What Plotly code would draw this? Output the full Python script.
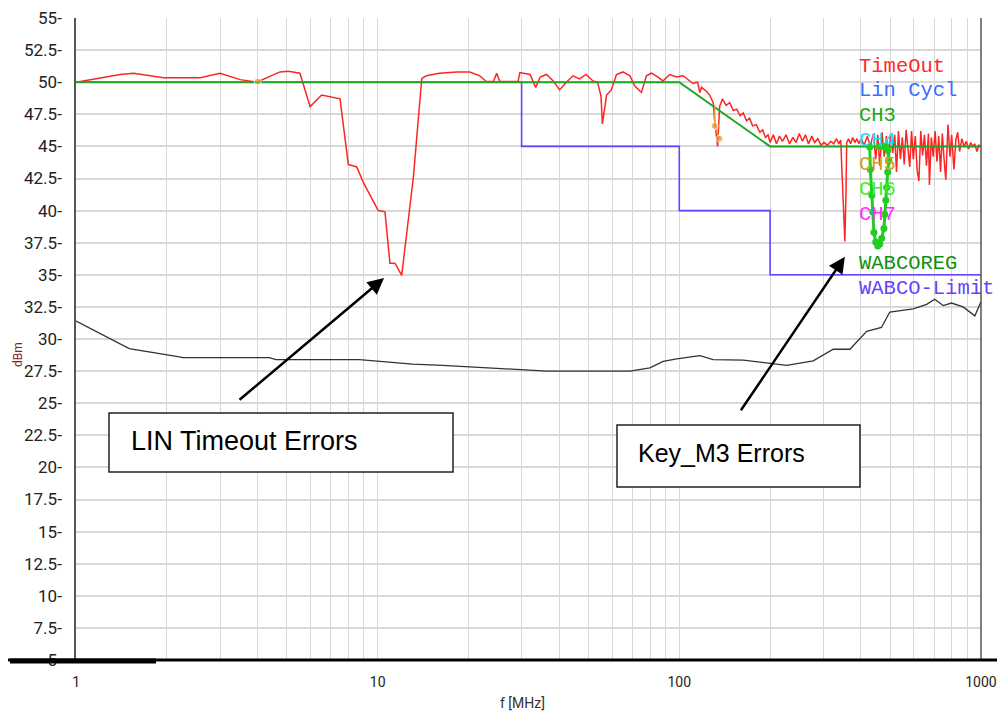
import plotly.graph_objects as go

# ---------------- data ----------------
timeout_f = [1.0, 1.03, 1.4, 1.55, 1.95, 2.58, 3.0, 3.5, 3.97, 4.74, 5.06, 5.52, 5.97, 6.52, 7.5, 7.99,
             8.52, 8.96, 10.04, 10.57, 10.98, 11.41, 12.01, 13.13, 14.0, 14.5, 16.0, 18.3, 20.2, 21.8,
             22.9, 24.2, 24.8, 25.4, 29.2, 29.6, 32.0, 33.4, 34.6, 36.3, 38.2, 40.1, 42.2, 44.4, 46.7,
             49.1, 51.7, 53.6, 55.0, 55.6, 57.4, 59.5, 61.9, 65.1, 68.6, 71.2, 74.9, 77.8, 80.8, 85.0,
             88.3, 92.9, 98.0, 103, 107, 111, 115, 117, 118.5, 123, 126, 129.6, 131, 134, 136, 139,
             143, 147, 151, 155, 159, 163, 167, 171, 175, 180, 185, 189, 193, 197,
             200, 205, 210, 215, 220, 226, 232, 238, 244, 250, 256, 262, 268, 275, 281, 288, 295,
             302, 310, 318, 325, 332, 338, 343, 346, 349, 352, 354, 357, 359, 364, 370, 376, 382,
             388, 394, 400, 410, 420, 430, 440, 448, 455, 462, 470, 478, 486, 494, 502, 510, 518,
             525, 533, 541, 549, 557, 565, 573, 581, 589, 597, 606, 615, 623, 632, 641, 650, 660,
             670, 675, 685, 695, 705, 715, 725, 735, 745, 755, 765, 778, 790, 800, 814, 826, 838,
             850, 865, 880, 895, 910, 925, 940, 955, 970, 985, 1000]
timeout_v = [50.0, 50.05, 50.6, 50.7, 50.35, 50.35, 50.7, 50.2, 50.0, 50.8, 50.85, 50.7, 48.1, 49.0, 48.7, 43.6,
             43.4, 42.2, 40.0, 39.9, 35.9, 35.9, 34.95, 42.6, 50.3, 50.5, 50.7, 50.8, 50.8, 50.5,
             50.05, 50.05, 50.7, 50.05, 50.05, 50.75, 50.6, 49.6, 50.4, 50.6, 50.1, 49.4, 50.0, 50.5, 50.25,
             50.6, 50.1, 50.0, 48.9, 46.75, 49.0, 49.4, 50.6, 50.8, 50.5, 49.7, 49.2, 50.5, 50.7, 50.4,
             50.1, 50.6, 50.4, 50.5, 50.2, 49.9, 50.0, 49.2, 49.6, 49.3, 49.0, 48.4, 47.0, 45.0, 48.1, 48.7,
             48.2, 48.4, 47.8, 47.9, 47.4, 47.6, 47.0, 47.2, 46.6, 46.7, 46.1, 46.3, 45.7, 45.9,
             45.3, 45.9, 45.2, 45.8, 45.4, 45.9, 45.2, 45.7, 45.3, 46.0, 45.4, 45.9, 45.2, 45.8, 45.3, 45.6, 45.1,
             45.3, 45.1, 45.4, 45.2, 45.6, 45.2, 45.5, 43.2, 41.0, 38.5, 37.6, 41.3, 45.3, 45.6, 45.2, 45.7, 45.3,
             45.6, 45.2, 45.6, 45.1, 45.8, 45.0, 46.0, 44.0, 45.9, 43.5, 46.1, 44.2, 45.8, 43.8, 46.0, 44.5, 45.9,
             43.0, 46.2, 44.0, 45.7, 43.6, 46.3, 44.5, 43.4, 46.2, 44.0, 45.8, 43.1, 42.3, 46.2, 44.3, 45.9, 43.5,
             46.0, 42.0, 45.7, 44.2, 46.2, 43.8, 45.8, 43.0, 46.0, 44.0, 42.4, 46.7, 44.2, 45.9, 43.2, 45.5, 46.1,
             44.6, 45.6, 45.0, 45.4, 44.8, 45.3, 45.0, 45.2, 44.6, 45.1, 45.0]

wabcoreg_f = [1, 100, 200, 1000]
wabcoreg_v = [50, 50, 45, 45]

limit_f = [1, 30, 30, 100, 100, 200, 200, 1000]
limit_v = [50, 50, 45, 45, 40, 40, 35, 35]

noise_f = [1.0, 1.5, 2.15, 2.26, 4.37, 4.6, 8.69, 10.65, 13.06, 16.4, 24.0, 33.5, 36.3, 68.6, 79.9, 88.4,
           98.0, 117, 129.5, 163, 210, 227, 278, 324, 368, 418, 468, 499, 596, 661, 703, 750, 799,
           873, 955, 1000]
noise_v = [31.4, 29.25, 28.65, 28.55, 28.55, 28.4, 28.4, 28.2, 28.05, 27.95, 27.75, 27.6, 27.5, 27.5, 27.75, 28.25,
           28.45, 28.7, 28.4, 28.35, 28.0, 27.95, 28.3, 29.2, 29.2, 30.6, 30.9, 32.1, 32.35, 32.7, 33.1, 32.6, 32.8,
           32.5, 31.8, 32.9]

ch5_f = [4.0, None, 131, 131, 136]
ch5_v = [50.05, None, 48.2, 46.6, 45.6]

ch6_f = [428, 430, 435, 438, 442, 448, 455, 462, 469, 477, 480, 484, 487, 491, 495, 491, 484, 480, 470, 460]
ch6_v = [44.95, 43.2, 41.2, 39.9, 38.3, 37.55, 37.25, 37.4, 37.85, 38.6, 39.7, 40.8, 41.8, 43.0, 43.9, 44.7, 45.0, 45.0, 45.0, 45.0]

legend_names = ["TimeOut", "Lin Cycl", "CH3", "CH4", "CH5", "CH6", "CH7", "WABCOREG", "WABCO-Limit"]
legend_colors = ["#ff2a2a", "#3a6cff", "#18a818", "#10e0f0", "#d4a020", "#40ee20", "#ff30ff", "#109010", "#6a40ff"]
legend_rows = [0, 1, 2, 3, 4, 5, 6, 8, 9]

x_tickvals = [1, 10, 100, 1000]
x_ticktext = ["1", "10", "100", "1000"]
y_tickvals = [5 + 2.5 * i for i in range(21)]
y_ticktext = ["5", "7.5", "10", "12.5", "15", "17.5", "20", "22.5", "25", "27.5", "30", "32.5", "35",
              "37.5", "40", "42.5", "45", "47.5", "50", "52.5", "55"]
minor_vals = [m * d for d in (1, 10, 100) for m in range(2, 10)]

# ---------------- figure ----------------
W, H = 997, 715
ML, MR, MT, MB = 76, 16, 18, 55
PW, PH = W - ML - MR, H - MT - MB


def px(x):
    return (x - ML) / PW


def py(y):
    return (H - MB - y) / PH


fig = go.Figure()
fig.add_trace(go.Scatter(x=noise_f, y=noise_v, mode="lines", line=dict(color="#333333", width=1.3)))
fig.add_trace(go.Scatter(x=limit_f, y=limit_v, mode="lines", line=dict(color="#6a40ff", width=1.6)))
fig.add_trace(go.Scatter(x=timeout_f, y=timeout_v, mode="lines", line=dict(color="#ff2424", width=1.5)))
fig.add_trace(go.Scatter(x=wabcoreg_f, y=wabcoreg_v, mode="lines", line=dict(color="#22a522", width=2)))
fig.add_trace(go.Scatter(x=ch5_f, y=ch5_v, mode="lines+markers", line=dict(color="#d9a030", width=1.5),
                         marker=dict(color="#d9a030", size=[7, 0, 0, 7, 7])))
fig.add_trace(go.Scatter(x=ch6_f, y=ch6_v, mode="lines+markers", line=dict(color="#22cc22", width=3),
                         marker=dict(color="#22cc22", size=7)))

ytickfont = dict(family="Liberation Sans Narrow, Roboto, Liberation Sans", size=17, color="#222222")
xtickfont = dict(family="Liberation Sans Narrow, Roboto, Liberation Sans", size=14, color="#222222")

fig.update_layout(
    width=W, height=H, margin=dict(l=ML, r=MR, t=MT, b=MB, autoexpand=False),
    paper_bgcolor="white", plot_bgcolor="white", showlegend=False,
    xaxis=dict(type="log", range=[-0.0004, 3.0004], tickvals=x_tickvals, ticktext=x_ticktext,
               showgrid=True, gridcolor="#d8d8d8", gridwidth=1, zeroline=False,
               minor=dict(tickvals=minor_vals, showgrid=True, gridcolor="#d8d8d8", gridwidth=1),
               ticks="", showline=False, tickfont=xtickfont, ticklabelstandoff=12,
               ticklabeloverflow="allow"),
    yaxis=dict(range=[5, 55], tickvals=y_tickvals, ticktext=[t + "-" for t in y_ticktext],
               showgrid=True, gridcolor="#d8d8d8", gridwidth=1.5, zeroline=False,
               ticks="", showline=True, linecolor="#555555", linewidth=1.5,
               tickfont=ytickfont, ticklabelstandoff=9),
)

shapes = [
    dict(type="line", xref="paper", yref="paper", x0=1, x1=1, y0=0, y1=1, line=dict(color="#555555", width=1.5)),
    dict(type="line", xref="paper", yref="paper", x0=px(8), x1=px(997), y0=py(660), y1=py(660),
         line=dict(color="black", width=3)),
    dict(type="line", xref="paper", yref="paper", x0=px(10), x1=px(156), y0=py(661), y1=py(661),
         line=dict(color="black", width=5)),
    dict(type="rect", xref="paper", yref="paper", x0=px(109), x1=px(453), y0=py(472), y1=py(413),
         line=dict(color="#222222", width=1.5), fillcolor="white"),
    dict(type="rect", xref="paper", yref="paper", x0=px(617), x1=px(860), y0=py(487), y1=py(425),
         line=dict(color="#222222", width=1.5), fillcolor="white"),
]
fig.update_layout(shapes=shapes)

annotations = []
for name, col, row in zip(legend_names, legend_colors, legend_rows):
    annotations.append(dict(xref="paper", yref="paper", x=px(857), y=py(66 + 24.7 * row), text=name,
                            showarrow=False, xanchor="left", yanchor="middle",
                            font=dict(family="Liberation Mono, DejaVu Sans Mono", size=20.5, color=col)))
annotations += [
    dict(xref="paper", yref="paper", x=px(129), y=py(441), text="LIN Timeout Errors", showarrow=False,
         xanchor="left", yanchor="middle", font=dict(family="Liberation Sans, Arial", size=27, color="black")),
    dict(xref="paper", yref="paper", x=px(636), y=py(453), text="Key_M3 Errors", showarrow=False,
         xanchor="left", yanchor="middle", font=dict(family="Liberation Sans, Arial", size=25, color="black")),
    dict(xref="x", yref="y", x=1.021, y=34.75, ax=-146, ay=123, text="", showarrow=True,
         arrowhead=2, arrowsize=1.3, arrowwidth=2.5, arrowcolor="black"),
    dict(xref="x", yref="y", x=2.549, y=36.4, ax=-105, ay=155, text="", showarrow=True,
         arrowhead=2, arrowsize=1.3, arrowwidth=2.5, arrowcolor="black"),
    dict(xref="paper", yref="paper", x=px(522), y=py(703), text="f [MHz]", showarrow=False,
         xanchor="center", yanchor="middle", font=dict(family="Liberation Sans Narrow, Roboto", size=14, color="#333333")),
    dict(xref="paper", yref="paper", x=px(18), y=py(355), text="dBm", showarrow=False, textangle=-90,
         xanchor="center", yanchor="middle", font=dict(family="Liberation Sans Narrow, Roboto", size=12, color="#8a2020")),
]
fig.update_layout(annotations=annotations)

fig.write_html("out.html", config={"displayModeBar": False},
               post_script="document.body.style.margin='0';")
